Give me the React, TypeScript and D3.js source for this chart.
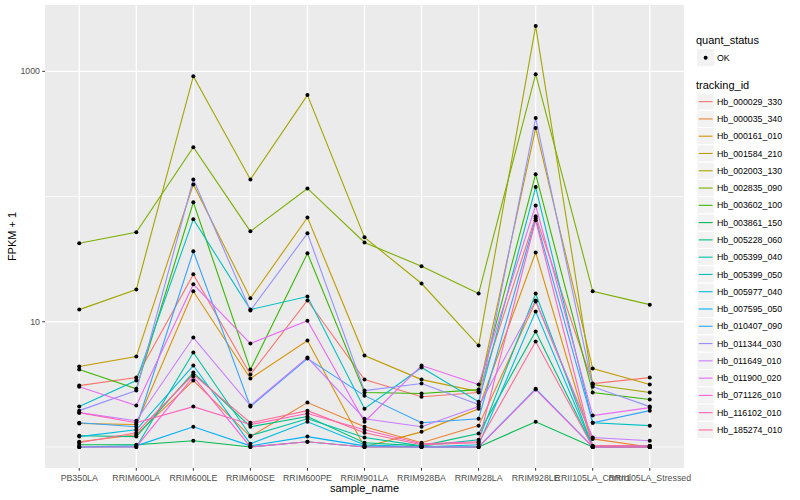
import * as d3 from "d3";

const samples = [
  "PB350LA", "RRIM600LA", "RRIM600LE", "RRIM600SE", "RRIM600PE", "RRIM901LA",
  "RRIM928BA", "RRIM928LA", "RRIM928LE", "RRII105LA_Control", "RRII105LA_Stressed",
];

const trackingIds = [
  "Hb_000029_330", "Hb_000035_340", "Hb_000161_010", "Hb_001584_210", "Hb_002003_130",
  "Hb_002835_090", "Hb_003602_100", "Hb_003861_150", "Hb_005228_060", "Hb_005399_040",
  "Hb_005399_050", "Hb_005977_040", "Hb_007595_050", "Hb_010407_090", "Hb_011344_030",
  "Hb_011649_010", "Hb_011900_020", "Hb_071126_010", "Hb_116102_010", "Hb_185274_010",
];

// FPKM + 1, one row per tracking_id, columns follow `samples`
const fpkm: number[][] = [
  [3.09, 3.58, 23.9, 3.79, 14.8, 3.45, 2.52, 2.72, 69.5, 3.21, 3.58],
  [1.1, 1.25, 3.39, 1.21, 2.26, 1.45, 1.08, 1.48, 14.5, 1.16, 1.0],
  [1.54, 1.51, 17.5, 3.52, 7.08, 1.0, 1.32, 2.02, 35.8, 1.02, 1.02],
  [4.39, 5.27, 125, 15.4, 68, 5.37, 3.45, 2.77, 352, 4.23, 3.15],
  [12.5, 18.1, 915, 137, 646, 47.2, 20.2, 6.46, 2300, 3.15, 2.72],
  [42.3, 51.8, 248, 52.7, 116, 43, 27.7, 16.8, 950, 17.5, 13.7],
  [4.15, 2.92, 90, 4.15, 35.2, 2.72, 2.67, 2.87, 151, 2.72, 2.39],
  [1.04, 1.04, 1.12, 1.0, 1.1, 1.0, 1.0, 1.0, 1.59, 1.0, 1.0],
  [1.23, 1.21, 3.93, 1.45, 1.75, 1.08, 1.02, 1.28, 8.36, 1.0, 1.0],
  [1.0, 1.0, 5.68, 1.23, 1.68, 1.19, 1.02, 1.14, 16.8, 1.0, 1.02],
  [2.1, 3.39, 66, 12.5, 15.9, 2.02, 4.31, 2.3, 119, 1.56, 1.48],
  [1.21, 1.37, 4.47, 1.06, 1.59, 1.04, 1.0, 1.04, 12.1, 1.0, 1.0],
  [1.0, 1.02, 1.45, 1.02, 1.21, 1.02, 1.0, 1.0, 2.92, 1.0, 1.0],
  [1.56, 1.45, 36.5, 2.1, 5.08, 2.57, 1.56, 1.68, 67, 1.56, 1.95],
  [1.95, 2.82, 137, 12.3, 50.8, 2.82, 3.21, 2.18, 423, 3.03, 2.1],
  [1.88, 1.62, 7.48, 2.14, 5.18, 1.68, 1.45, 2.1, 14.8, 1.19, 1.12],
  [3.03, 2.14, 19.9, 6.7, 10.2, 1.59, 4.47, 3.15, 85, 1.78, 2.06],
  [1.0, 1.0, 3.65, 1.0, 1.1, 1.0, 1.0, 1.0, 2.87, 1.0, 1.0],
  [1.88, 1.56, 2.1, 1.51, 1.85, 1.37, 1.06, 1.1, 64.6, 1.02, 1.02],
  [1.08, 1.3, 3.79, 1.56, 1.95, 1.3, 1.04, 1.08, 6.95, 1.0, 1.0],
];

const majorY = [10, 1000];
const minorY = [1, 100];

// ggplot's hue_pal: hcl() in polar CIE-LUV
function hclLuv(h: number, c: number, l: number) {
  const hr = (h * Math.PI) / 180;
  const U = c * Math.cos(hr);
  const V = c * Math.sin(hr);
  const Xn = 95.047, Yn = 100, Zn = 108.883;
  const den = Xn + 15 * Yn + 3 * Zn;
  const un = (4 * Xn) / den, vn = (9 * Yn) / den;
  const Y = l > 8 ? Yn * Math.pow((l + 16) / 116, 3) : (Yn * l) / 903.3;
  const u = U / (13 * l) + un;
  const v = V / (13 * l) + vn;
  const X = (9 * Y * u) / (4 * v);
  const Z = (Y * (12 - 3 * u - 20 * v)) / (4 * v);
  const x = X / 100, y = Y / 100, z = Z / 100;
  const lin = [
    3.240479 * x - 1.53715 * y - 0.498535 * z,
    -0.969256 * x + 1.875992 * y + 0.041556 * z,
    0.055648 * x - 0.204043 * y + 1.057311 * z,
  ];
  const g = lin.map((t) => {
    const s = t <= 0.0031308 ? 12.92 * t : 1.055 * Math.pow(t, 1 / 2.4) - 0.055;
    return Math.round(Math.max(0, Math.min(1, s)) * 255);
  });
  return d3.rgb(g[0], g[1], g[2]).formatHex();
}

const colors = trackingIds.map((_, i) => hclLuv(15 + (360 / trackingIds.length) * i, 100, 65));

const W = 800, H = 500;
const P = { left: 45, right: 684, top: 5, bottom: 468 };
const font = "'Liberation Sans', Arial, Helvetica, sans-serif";

export default function App() {
  const x = d3.scalePoint<string>().domain(samples).range([P.left, P.right]).padding(0.6);
  const all = fpkm.flat();
  const [lo, hi] = d3.extent(all.map(Math.log10)) as [number, number];
  const pad = (hi - lo) * 0.05;
  const y = d3.scaleLog().domain([10 ** (lo - pad), 10 ** (hi + pad)]).range([P.bottom, P.top]);

  const line = d3
    .line<number>()
    .x((_, i) => x(samples[i])!)
    .y((d) => y(d));

  const keyTop = 93;
  const keyH = 17.28;

  return (
    <svg width={W} height={H} style={{ position: "absolute", left: 0, top: 0 }} fontFamily={font}>
      <rect width={W} height={H} fill="#ffffff" />
      <rect x={P.left} y={P.top} width={P.right - P.left} height={P.bottom - P.top} fill="#EBEBEB" />
      {minorY.map((t) => (
        <line key={"mn" + t} x1={P.left} x2={P.right} y1={y(t)} y2={y(t)} stroke="#fff" strokeWidth={0.7} />
      ))}
      {majorY.map((t) => (
        <line key={"mj" + t} x1={P.left} x2={P.right} y1={y(t)} y2={y(t)} stroke="#fff" strokeWidth={1.3} />
      ))}
      {samples.map((s) => (
        <line key={"gx" + s} x1={x(s)} x2={x(s)} y1={P.top} y2={P.bottom} stroke="#fff" strokeWidth={1.3} />
      ))}

      {fpkm.map((row, i) => (
        <path key={"l" + i} d={line(row)!} fill="none" stroke={colors[i]} strokeWidth={1.1} />
      ))}
      {fpkm.map((row, i) =>
        row.map((v, j) => <circle key={`p${i}-${j}`} cx={x(samples[j])} cy={y(v)} r={2} fill="#000" />)
      )}

      {majorY.map((t) => (
        <g key={"ty" + t}>
          <line x1={P.left - 2.7} x2={P.left} y1={y(t)} y2={y(t)} stroke="#333" strokeWidth={1} />
          <text x={P.left - 5} y={y(t)} dy="0.33em" textAnchor="end" fontSize={8.8} fill="#4D4D4D">
            {t}
          </text>
        </g>
      ))}
      {samples.map((s) => (
        <g key={"tx" + s}>
          <line x1={x(s)} x2={x(s)} y1={P.bottom} y2={P.bottom + 2.7} stroke="#333" strokeWidth={1} />
          <text x={x(s)} y={P.bottom + 12.5} textAnchor="middle" fontSize={8.8} fill="#4D4D4D">
            {s}
          </text>
        </g>
      ))}

      <text x={(P.left + P.right) / 2} y={492} textAnchor="middle" fontSize={11} fill="#000">
        sample_name
      </text>
      <text
        transform={`translate(16,${(P.top + P.bottom) / 2}) rotate(-90)`}
        textAnchor="middle"
        fontSize={11}
        fill="#000"
      >
        FPKM + 1
      </text>

      <text x={696} y={44} fontSize={11} fill="#000">quant_status</text>
      <rect x={697} y={49} width={keyH} height={keyH} fill="#F2F2F2" />
      <circle cx={697 + keyH / 2} cy={49 + keyH / 2} r={2} fill="#000" />
      <text x={717} y={49 + keyH / 2} dy="0.35em" fontSize={8.8} fill="#000">OK</text>

      <text x={696} y={89} fontSize={11} fill="#000">tracking_id</text>
      {trackingIds.map((id, i) => {
        const cy = keyTop + i * keyH + keyH / 2;
        return (
          <g key={"lg" + id}>
            <rect x={697} y={keyTop + i * keyH} width={keyH} height={keyH} fill="#F2F2F2" stroke="#fff" strokeWidth={1} />
            <line x1={698.7} x2={712.6} y1={cy} y2={cy} stroke={colors[i]} strokeWidth={1.1} />
            <text x={717} y={cy} dy="0.35em" fontSize={8.8} fill="#000">
              {id}
            </text>
          </g>
        );
      })}
    </svg>
  );
}
